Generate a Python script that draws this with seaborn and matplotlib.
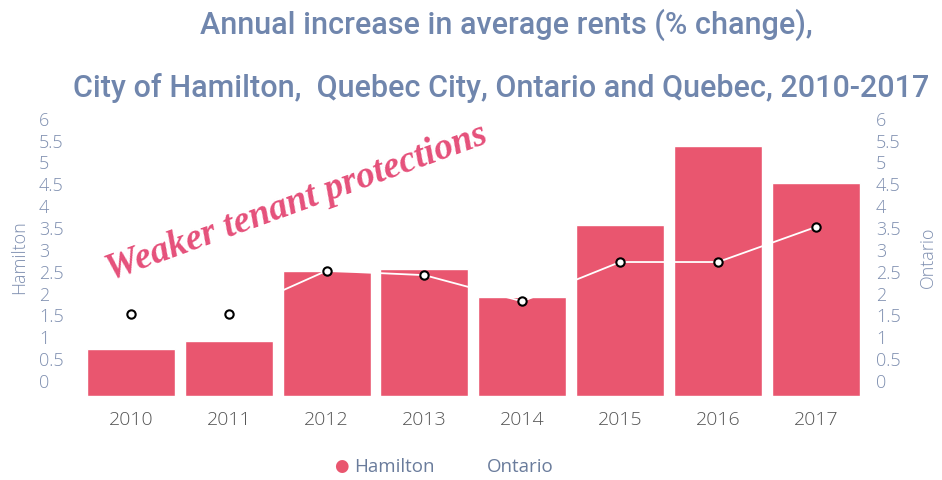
import numpy as np
import pandas as pd
import matplotlib
matplotlib.use("Agg")
import matplotlib.pyplot as plt
import seaborn as sns

years = ["2010", "2011", "2012", "2013", "2014", "2015", "2016", "2017"]
hamilton = [0.7, 0.9, 2.5, 2.55, 1.9, 3.55, 5.35, 4.5]
ontario = [1.5, 1.5, 2.5, 2.4, 1.8, 2.7, 2.7, 3.5]
ticks = [0, 0.5, 1, 1.5, 2, 2.5, 3, 3.5, 4, 4.5, 5, 5.5, 6]

sns.set_theme(style="white")
plt.rcParams['font.family'] = ['Open Sans', 'DejaVu Sans']

bar_color = "#e9566f"
tick_color = "#7f8fb0"
title_color = "#7086ad"
base = 0.36  # bars start a little below the 0 label

df = pd.DataFrame({"year": years, "hamilton": hamilton, "ontario": ontario})
df["height"] = df["hamilton"] + base

fig = plt.figure(figsize=(9.42, 4.81), dpi=100)
ax = fig.add_axes([0.087, 0.175, 0.831, 0.58])

sns.barplot(data=df, x="year", y="height", color=bar_color, saturation=1,
            width=0.9, bottom=-base, ax=ax, zorder=1)
ax.set_ylim(-base, 6.02)
ax.set_yticks(ticks)
ax.set_yticklabels([f"{t:g}" for t in ticks], color=tick_color, fontsize=13,
                   fontweight="light")
ax.set_ylabel("Hamilton", color=tick_color, fontsize=13, fontweight="light")
ax.yaxis.set_label_coords(-0.069, 0.5)
ax.set_xlabel("")
ax.tick_params(axis="x", colors="#555555", labelsize=14, pad=10, length=0)
ax.tick_params(axis="y", length=0, pad=31)
for lab in ax.get_yticklabels():
    lab.set_horizontalalignment("left")
for lab in ax.get_xticklabels():
    lab.set_fontweight("light")
for s in ax.spines.values():
    s.set_visible(False)

ax2 = ax.twinx()
sns.lineplot(data=df, x="year", y="ontario", ax=ax2, color="white", lw=1.3,
             marker="o", markersize=6, markerfacecolor="white",
             markeredgecolor="black", markeredgewidth=1.5, sort=False)
ax2.set_ylim(-base, 6.02)
ax2.set_yticks(ticks)
ax2.set_yticklabels([f"{t:g}" for t in ticks], color=tick_color, fontsize=13,
                    fontweight="light")
ax2.set_ylabel("Ontario", color=tick_color, fontsize=13, fontweight="light")
ax2.yaxis.set_label_coords(1.069, 0.5)
ax2.tick_params(axis="y", length=0, pad=8)
for s in ax2.spines.values():
    s.set_visible(False)
ax.set_xlim(-0.5, 7.5)

ax.text(0.025, 0.39, "Weaker tenant protections", transform=ax.transAxes,
        rotation=20, fontsize=27, color="#e5507a", fontstyle="italic",
        fontweight="bold", family="Liberation Serif", ha="left", va="bottom")

fig.text(0.538, 0.948, "Annual increase in average rents (% change),",
         ha="center", va="center", fontsize=22, color=title_color,
         family="Roboto", fontweight="medium")
fig.text(0.532, 0.817, "City of Hamilton,  Quebec City, Ontario and Quebec, 2010-2017",
         ha="center", va="center", fontsize=22, color=title_color,
         family="Roboto", fontweight="medium")

fig.text(0.362, 0.03, "\u25CF", color=bar_color, fontsize=12, ha="center", va="center")
fig.text(0.376, 0.03, "Hamilton", color="#6a7c9c", fontsize=13.5, ha="left", va="center")
fig.text(0.517, 0.03, "Ontario", color="#6a7c9c", fontsize=13.5, ha="left", va="center")

fig.savefig("out.png", dpi=100)
